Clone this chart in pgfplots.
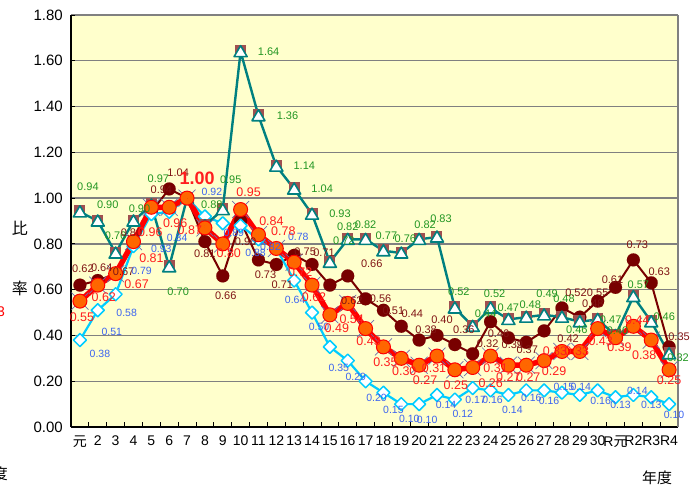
\documentclass[border=0pt]{standalone}
\usepackage{pgfplots}
\pgfplotsset{compat=1.18}
\usepackage{pgfplotstable}
\usepackage{fontspec}
\setmainfont{Liberation Sans}
\newfontfamily\jp{Noto Sans CJK JP}
\definecolor{bgy}{RGB}{255,255,204}
\definecolor{tealc}{RGB}{0,128,128}
\definecolor{sqb}{RGB}{160,80,80}
\definecolor{maroonc}{RGB}{120,0,0}
\definecolor{redc}{RGB}{255,0,0}
\definecolor{orangec}{RGB}{255,102,0}
\definecolor{cyanc}{RGB}{0,204,255}
\definecolor{greenl}{RGB}{34,150,34}
\definecolor{maroonl}{RGB}{128,20,20}
\definecolor{redl}{RGB}{255,30,30}
\definecolor{bluel}{RGB}{60,100,240}
\definecolor{xgray}{RGB}{110,110,170}
\definecolor{gridc}{RGB}{128,128,128}
\protected\def\bigone{{\fontsize{18}{18}\selectfont\bfseries 1.00}}

\pgfdeclareplotmark{sqtri}{%
 \pgfpathrectangle{\pgfqpoint{-5.5pt}{-5.5pt}}{\pgfqpoint{11pt}{12pt}}%
 \pgfsetfillcolor{sqb}\pgfusepath{fill}%
 \pgfpathmoveto{\pgfqpoint{0pt}{6pt}}%
 \pgfpathlineto{\pgfqpoint{6.5pt}{-5pt}}%
 \pgfpathlineto{\pgfqpoint{-6.5pt}{-5pt}}%
 \pgfpathclose
 \pgfsetfillcolor{white}\pgfsetstrokecolor{tealc}\pgfsetlinewidth{1.6pt}\pgfusepath{fill,stroke}}
\pgfdeclareplotmark{xcirc}{%
 \pgfsetstrokecolor{xgray}\pgfsetlinewidth{0.7pt}%
 \pgfpathmoveto{\pgfqpoint{-8.5pt}{-8.5pt}}\pgfpathlineto{\pgfqpoint{8.5pt}{8.5pt}}%
 \pgfpathmoveto{\pgfqpoint{-8.5pt}{8.5pt}}\pgfpathlineto{\pgfqpoint{8.5pt}{-8.5pt}}%
 \pgfusepath{stroke}%
 \pgfpathcircle{\pgfpointorigin}{7pt}%
 \pgfsetfillcolor{orangec}\pgfsetstrokecolor{redc}\pgfsetlinewidth{1pt}\pgfusepath{fill,stroke}}

\pgfplotstableread{
x y dx dy lab
0 0.94 8 25 0.94
1 0.90 10 16 0.90
2 0.76 0 17 0.76
3 0.90 6 12 0.90
4 0.97 7 26 0.97
5 0.70 9 -25 0.70
6 1.00 0 0 {}
7 0.88 7 21 0.88
8 0.95 8 30 0.95
9 1.64 28 0 1.64
10 1.36 29 0 1.36
11 1.14 28 0 1.14
12 1.04 28 0 1.04
13 0.93 28 0 0.93
14 0.72 14 21 0.72
15 0.82 0 13 0.82
16 0.82 0 15 0.82
17 0.77 3 15 0.77
18 0.76 4 14 0.76
19 0.82 6 15 0.82
20 0.83 4 18 0.83
21 0.52 4 16 0.52
22 0.44 13 13 0.44
23 0.52 4 14 0.52
24 0.47 0 12 0.47
25 0.48 4 12 0.48
26 0.49 3 21 0.49
27 0.48 2 18 0.48
28 0.46 -3 -8 0.46
29 0.47 13 0 0.47
30 0.40 2 5 0.40
31 0.57 5 12 0.57
32 0.46 13 5 0.46
33 0.32 9 -4 0.32
}\tealtab

\pgfplotstableread{
x y dx dy lab
0 0.62 3 16 0.62
1 0.64 4 13 0.64
2 0.67 8 2 0.67
3 0.80 -2 11 0.80
4 0.94 10 22 0.94
5 1.04 9 16 1.04
6 1.00 0 0 {}
7 0.81 0 -12 0.81
8 0.66 3 -20 0.66
9 0.90 5 -21 0.90
10 0.73 7 -15 0.73
11 0.71 6 -20 0.71
12 0.75 11 4 0.75
13 0.71 12 12 0.71
14 0.62 22 -16 0.62
15 0.66 24 12 0.66
16 0.56 15 0 0.56
17 0.51 10 0 0.51
18 0.44 11 13 0.44
19 0.38 7 10 0.38
20 0.40 5 16 0.40
21 0.36 9 15 0.36
22 0.32 15 10 0.32
23 0.46 8 -12 0.46
24 0.39 4 -7 0.39
25 0.37 1 -7 0.37
26 0.42 24 -8 0.42
27 0.52 14 15 0.52
28 0.48 13 13 0.48
29 0.55 0 8 0.55
30 0.61 -3 8 0.61
31 0.73 4 15 0.73
32 0.63 8 11 0.63
33 0.35 10 10 0.35
}\maroontab

\pgfplotstableread{
x y dx dy lab
0 0.55 2 -16 0.55
1 0.62 6 -12 0.62
2 0.67 21 -11 0.67
3 0.81 18 -17 0.81
4 0.96 -1 -25 0.96
5 0.96 6 -16 0.96
6 1.00 10 20 \bigone
7 0.87 -15 -2 0.87
8 0.80 6 -9 0.80
9 0.95 8 17 0.95
10 0.84 13 14 0.84
11 0.78 7 17 0.78
12 0.72 6 -10 0.72
13 0.62 2 -12 0.62
14 0.49 7 -13 0.49
15 0.54 4 -16 0.54
16 0.43 3 -13 0.43
17 0.35 2 -15 0.35
18 0.30 3 -13 0.30
19 0.27 6 -15 0.27
20 0.31 -3 -12 0.31
21 0.25 1 -15 0.25
22 0.26 18 -16 0.26
23 0.31 5 -12 0.31
24 0.27 0 -12 0.27
25 0.27 2 -12 0.27
26 0.29 10 -11 0.29
27 0.33 -7 0 0.33
28 0.33 -3 0 0.33
29 0.43 3 -13 0.43
30 0.39 4 -9 0.39
31 0.44 4 6 0.44
32 0.38 -7 -15 0.38
33 0.25 0 -10 0.25
}\redtab

\pgfplotstableread{
x y dx dy lab
0 0.38 20 -14 0.38
1 0.51 14 -22 0.51
2 0.58 11 -19 0.58
3 0.79 8 -25 0.79
4 0.93 10 -35 0.93
5 0.94 8 -26 0.84
6 1.00 0 0 {}
7 0.92 7 25 0.92
8 0.89 11 -10 0.89
9 0.88 15 -27 0.88
10 0.82 12 -8 0.82
11 0.78 22 12 0.78
12 0.64 1 -19 0.64
13 0.50 7 -14 0.50
14 0.35 9 -21 0.35
15 0.29 8 -16 0.29
16 0.20 11 -17 0.20
17 0.15 10 -17 0.15
18 0.10 8 -15 0.10
19 0.10 8 -16 0.10
20 0.14 9 -10 0.14
21 0.12 8 -14 0.12
22 0.17 3 -12 0.17
23 0.16 2 -10 0.16
24 0.14 4 -15 0.14
25 0.16 5 -8 0.16
26 0.16 5 -11 0.16
27 0.15 2 6 0.15
28 0.14 1 8 0.14
29 0.16 3 -11 0.16
30 0.13 5 -8 0.13
31 0.14 4 4 0.14
32 0.13 0 -8 0.13
33 0.10 5 -11 0.10
}\bluetab

\pgfplotsset{
 lbl/.style n args={2}{only marks, mark=*, mark size=0pt, mark options={draw=none,fill=none},
  point meta=explicit symbolic, nodes near coords,
  visualization depends on={\thisrow{dx}\as\lblx},
  visualization depends on={\thisrow{dy}\as\lbly},
  every node near coord/.append style={anchor=center, xshift=\lblx pt, yshift=\lbly pt, inner sep=0pt, text=#1, font=#2}}
}

\begin{document}
\begin{tikzpicture}
\useasboundingbox (-71pt,-61pt) rectangle (629pt,427pt);
\begin{axis}[
 at={(0,0)}, anchor=south west,
 scale only axis, width=607pt, height=412pt,
 xmin=-0.5, xmax=33.5, ymin=0, ymax=1.8,
 clip=false,
 axis background/.style={fill=bgy},
 axis x line*=bottom, axis y line*=left,
 axis line style={black, line width=1.6pt, -},
 tick align=inside,
 xtick={0,...,33},
 xticklabels={{\jp 元},2,3,4,5,6,7,8,9,10,11,12,13,14,15,16,17,18,19,20,21,22,23,24,25,26,27,28,29,30,{R\jp 元},R2,R3,R4},
 major x tick style={draw=none},
 minor xtick={-0.5,0.5,...,33.5},
 minor tick length=5pt,
 minor x tick style={black, line width=0.8pt},
 xticklabel style={font=\fontsize{14}{14}\selectfont, inner sep=0pt, yshift=-9pt, anchor=north},
 ytick={0,0.2,0.4,0.6,0.8,1.0,1.2,1.4,1.6,1.8},
 yticklabel style={font=\fontsize{15}{15}\selectfont, xshift=-8pt, inner sep=0pt, anchor=east,
   /pgf/number format/fixed, /pgf/number format/fixed zerofill, /pgf/number format/precision=2},
 /pgf/number format/assume math mode=true,
 major y tick style={black, line width=0.8pt},
 major tick length=4pt,
 ymajorgrids, major grid style={gridc, line width=1.3pt},
 extra x ticks={33.5}, extra x tick labels={},
 extra x tick style={grid=major, major grid style={gridc, line width=1.3pt}, major tick length=0pt},
 line join=round,
]
\addplot[color=maroonc, line width=2pt, mark=*, mark size=6.5pt, mark options={fill=maroonc, draw=maroonc, line width=0.1pt}] table[x=x,y=y] {\maroontab};
\addplot[color=cyanc, line width=2.2pt, mark=square*, mark size=4.6pt, mark options={rotate=45, fill=white, draw=cyanc, line width=1.5pt}] table[x=x,y=y] {\bluetab};
\addplot[color=tealc, line width=2.4pt, mark=sqtri] table[x=x,y=y] {\tealtab};
\addplot[color=redc, line width=5.5pt, mark=xcirc] table[x=x,y=y] {\redtab};

\addplot[lbl={greenl}{\fontsize{11}{11}\selectfont}] table[x=x,y=y,meta=lab] {\tealtab};
\addplot[lbl={maroonl}{\fontsize{11}{11}\selectfont}] table[x=x,y=y,meta=lab] {\maroontab};
\addplot[lbl={bluel}{\fontsize{10.5}{10.5}\selectfont}] table[x=x,y=y,meta=lab] {\bluetab};
\addplot[lbl={redl}{\fontsize{12.5}{12.5}\selectfont}] table[x=x,y=y,meta=lab] {\redtab};
\end{axis}
\node[font=\fontsize{16}{16}\selectfont\jp] at (-51pt,199pt) {比};
\node[font=\fontsize{16}{16}\selectfont\jp] at (-51pt,139pt) {率};
\node[font=\fontsize{14}{14}\selectfont, text=red, anchor=east, inner sep=0pt] at (-66pt,115pt) {3};
\node[font=\fontsize{15}{15}\selectfont\jp, anchor=east, inner sep=0pt] at (-63pt,-47pt) {年度};
\node[font=\fontsize{15}{15}\selectfont\jp, inner sep=0pt] at (586pt,-51pt) {年度};
\end{tikzpicture}
\end{document}
